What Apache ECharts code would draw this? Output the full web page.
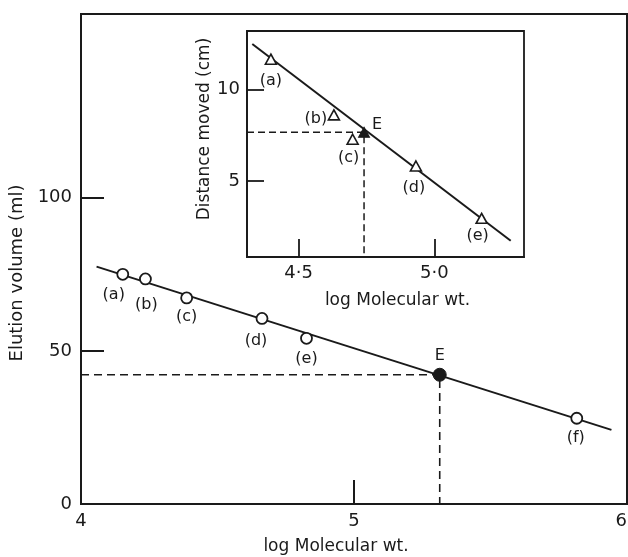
<!DOCTYPE html>
<html>
<head>
<meta charset="utf-8">
<script src="https://cdn.jsdelivr.net/npm/echarts@6/dist/echarts.min.js"></script>
<style>
  html, body { margin: 0; padding: 0; background: #fff; }
  #chart { width: 628px; height: 557px; }
</style>
</head>
<body>
<div id="chart"></div>
<script>
// ---- Gel filtration calibration (main plot) ----
const mainStdNames = ['(a)', '(b)', '(c)', '(d)', '(e)', '(f)'];
const mainStdLogMW = [4.153, 4.236, 4.387, 4.663, 4.826, 5.816];
const mainStdVolume = [75.0, 73.5, 67.3, 60.6, 54.1, 28.0];
const mainFitLogMW = [4.057, 5.943];
const mainFitVolume = [77.5, 24.2];
const mainUnknownName = 'E';
const mainUnknownLogMW = 5.314;
const mainUnknownVolume = 42.2;
const mainXRange = [4, 6];
const mainYRange = [0, 160];
const mainXLabels = [4, 5, 6];
const mainXTicks = [5];
const mainYLabels = [0, 50, 100];
const mainYTicks = [50, 100];

// ---- SDS gel electrophoresis calibration (inset) ----
const insetStdNames = ['(a)', '(b)', '(c)', '(d)', '(e)'];
const insetStdLogMW = [4.398, 4.630, 4.699, 4.932, 5.174];
const insetStdDistance = [11.66, 8.62, 7.29, 5.83, 2.97];
const insetFitLogMW = [4.3295, 5.281];
const insetFitDistance = [12.49, 1.75];
const insetUnknownName = 'E';
const insetUnknownLogMW = 4.741;
const insetUnknownDistance = 7.67;
const insetXRange = [4.31, 5.33];
const insetYRange = [0.86, 13.2];
const insetXTicks = [4.5, 5.0];
const insetYTicks = [5, 10];

// ---- label placement (pixel offsets from the marker centre) ----
const mainLabelOffsets = [[-9, 21], [1, 26], [0, 19], [-6, 22], [0, 21], [-1, 20]];
const mainUnknownOffset = [0, -19];
const insetLabelOffsets = [[0, 22], [-18, 4], [-4, 19], [-2, 22], [-4, 17]];
const insetUnknownOffset = [13, -7];

const INK = '#1a1a1a';
const FONT = 'DejaVu Sans';

function pointData(xs, ys, names, offsets) {
  return xs.map((x, i) => ({
    name: names[i],
    value: [x, ys[i]],
    label: { offset: offsets[i] }
  }));
}

function axisCommon(extra) {
  return Object.assign({
    type: 'value',
    axisLine: { show: true, onZero: false, lineStyle: { color: INK, width: 2 } },
    splitLine: { show: false },
    axisTick: { inside: true, lineStyle: { color: INK, width: 2 } },
    axisLabel: { color: INK, fontFamily: FONT, fontSize: 18 },
    nameLocation: 'middle',
    nameTextStyle: { color: INK, fontFamily: FONT, fontSize: 17 }
  }, extra);
}

const labelStyle = {
  show: true,
  position: 'inside',
  formatter: p => p.name,
  color: INK,
  fontFamily: FONT,
  fontSize: 16,
  align: 'center',
  verticalAlign: 'middle'
};

const chart = echarts.init(document.getElementById('chart'), null, { renderer: 'canvas' });

chart.setOption({
  animation: false,
  backgroundColor: '#fff',
  grid: [
    { left: 81, top: 14, width: 546, height: 490, outerBoundsMode: 'none', containLabel: false,
      show: true, borderColor: INK, borderWidth: 2, backgroundColor: 'transparent', z: 1 },
    { left: 247, top: 31, width: 277, height: 226, outerBoundsMode: 'none', containLabel: false,
      show: true, borderColor: INK, borderWidth: 1.8, backgroundColor: '#fff', z: 5 }
  ],
  xAxis: [
    axisCommon({
      gridIndex: 0, min: mainXRange[0], max: mainXRange[1],
      name: 'log Molecular wt.', nameGap: 34,
      nameTextStyle: { color: INK, fontFamily: FONT, fontSize: 17, padding: [0, 36, 0, 0] },
      axisTick: { inside: true, length: 24, customValues: mainXTicks, lineStyle: { color: INK, width: 2 } },
      axisLabel: { color: INK, fontFamily: FONT, fontSize: 18, margin: 8, customValues: mainXLabels,
        alignMaxLabel: 'right', formatter: v => String(v) }
    }),
    axisCommon({
      gridIndex: 1, min: insetXRange[0], max: insetXRange[1], z: 6,
      name: 'log Molecular wt.', nameGap: 35,
      nameTextStyle: { color: INK, fontFamily: FONT, fontSize: 17, padding: [0, 0, 0, 24] },
      axisLine: { show: true, onZero: false, lineStyle: { color: INK, width: 1.8 } },
      axisTick: { inside: true, length: 18, customValues: insetXTicks, lineStyle: { color: INK, width: 1.8 } },
      axisLabel: { color: INK, fontFamily: FONT, fontSize: 18, margin: 7, customValues: insetXTicks,
        formatter: v => v.toFixed(1).replace('.', '\u00b7') }
    })
  ],
  yAxis: [
    axisCommon({
      gridIndex: 0, min: mainYRange[0], max: mainYRange[1],
      name: 'Elution volume (ml)', nameGap: 53,
      nameTextStyle: { color: INK, fontFamily: FONT, fontSize: 18, padding: [0, 28, 0, 0] },
      axisTick: { inside: true, length: 23, customValues: mainYTicks, lineStyle: { color: INK, width: 2 } },
      axisLabel: { color: INK, fontFamily: FONT, fontSize: 18, margin: 9, customValues: mainYLabels, formatter: v => String(v) }
    }),
    axisCommon({
      gridIndex: 1, min: insetYRange[0], max: insetYRange[1], z: 6,
      name: 'Distance moved (cm)', nameGap: 34,
      nameTextStyle: { color: INK, fontFamily: FONT, fontSize: 17, padding: [0, 0, 0, 30] },
      axisLine: { show: true, onZero: false, lineStyle: { color: INK, width: 1.8 } },
      axisTick: { inside: true, length: 17, customValues: insetYTicks, lineStyle: { color: INK, width: 1.8 } },
      axisLabel: { color: INK, fontFamily: FONT, fontSize: 18, margin: 7, customValues: insetYTicks, formatter: v => String(v) }
    })
  ],
  series: [
    // main: fitted calibration line
    {
      type: 'line', xAxisIndex: 0, yAxisIndex: 0, z: 2, symbol: 'none', silent: true,
      lineStyle: { color: INK, width: 2 },
      data: mainFitLogMW.map((x, i) => [x, mainFitVolume[i]])
    },
    // main: read-off guides for the unknown
    {
      type: 'line', xAxisIndex: 0, yAxisIndex: 0, z: 2, symbol: 'none', silent: true,
      lineStyle: { color: INK, width: 1.6, type: [8, 5] },
      data: [[mainXRange[0], mainUnknownVolume], [mainUnknownLogMW, mainUnknownVolume], [mainUnknownLogMW, mainYRange[0]]]
    },
    // main: standards
    {
      type: 'scatter', xAxisIndex: 0, yAxisIndex: 0, z: 3, symbol: 'circle', symbolSize: 11,
      itemStyle: { color: '#fff', borderColor: INK, borderWidth: 1.8, opacity: 1 },
      label: labelStyle,
      data: pointData(mainStdLogMW, mainStdVolume, mainStdNames, mainLabelOffsets)
    },
    // main: unknown protein
    {
      type: 'scatter', xAxisIndex: 0, yAxisIndex: 0, z: 3, symbol: 'circle', symbolSize: 13,
      itemStyle: { color: INK, borderColor: INK, borderWidth: 1, opacity: 1 },
      label: labelStyle,
      data: pointData([mainUnknownLogMW], [mainUnknownVolume], [mainUnknownName], [mainUnknownOffset])
    },
    // inset: fitted calibration line
    {
      type: 'line', xAxisIndex: 1, yAxisIndex: 1, z: 7, symbol: 'none', silent: true,
      lineStyle: { color: INK, width: 2 },
      data: insetFitLogMW.map((x, i) => [x, insetFitDistance[i]])
    },
    // inset: read-off guides
    {
      type: 'line', xAxisIndex: 1, yAxisIndex: 1, z: 7, symbol: 'none', silent: true,
      lineStyle: { color: INK, width: 1.5, type: [7, 4] },
      data: [[insetXRange[0], insetUnknownDistance], [insetUnknownLogMW, insetUnknownDistance], [insetUnknownLogMW, insetYRange[0]]]
    },
    // inset: standards
    {
      type: 'scatter', xAxisIndex: 1, yAxisIndex: 1, z: 8, symbol: 'triangle', symbolSize: [11, 10],
      itemStyle: { color: '#fff', borderColor: INK, borderWidth: 1.6, opacity: 1 },
      label: labelStyle,
      data: pointData(insetStdLogMW, insetStdDistance, insetStdNames, insetLabelOffsets)
    },
    // inset: unknown protein
    {
      type: 'scatter', xAxisIndex: 1, yAxisIndex: 1, z: 8, symbol: 'triangle', symbolSize: [11, 10],
      itemStyle: { color: INK, borderColor: INK, borderWidth: 1, opacity: 1 },
      label: labelStyle,
      data: pointData([insetUnknownLogMW], [insetUnknownDistance], [insetUnknownName], [insetUnknownOffset])
    }
  ]
});
</script>
</body>
</html>
